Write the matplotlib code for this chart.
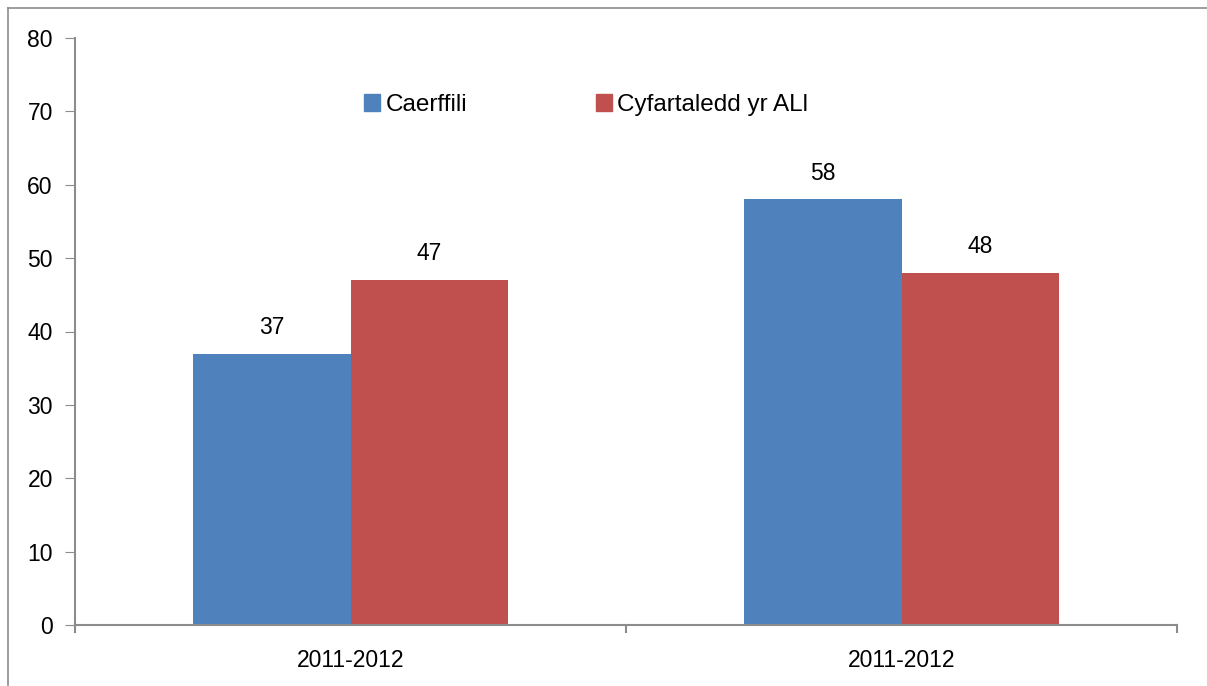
"""Grouped bar chart: Caerffili vs Cyfartaledd yr ALl."""

import matplotlib.pyplot as plt
import numpy as np
from matplotlib.lines import Line2D
from matplotlib.patches import Patch

categories = ["2011-2012", "2011-2012"]
series_names = ["Caerffili", "Cyfartaledd yr ALl"]
caerffili = [37, 58]
cyfartaledd = [47, 48]
y_ticks = [0, 10, 20, 30, 40, 50, 60, 70, 80]

BLUE = "#4f81bd"
RED = "#c0504d"
AXIS_GRAY = "#8c8c8c"
FS = 16.5

plt.rcParams["font.family"] = ["Liberation Sans", "DejaVu Sans"]

fig = plt.figure(figsize=(12.07, 6.86), dpi=100)
ax = fig.add_axes([75 / 1207, 1 - 625 / 686, 1102 / 1207, 587 / 686])

x = np.arange(len(categories))
width = 0.285
bars1 = ax.bar(x - width / 2, caerffili, width, color=BLUE, label=series_names[0])
bars2 = ax.bar(x + width / 2, cyfartaledd, width, color=RED, label=series_names[1])

for bars in (bars1, bars2):
    for b in bars:
        ax.text(
            b.get_x() + b.get_width() / 2,
            b.get_height() + 2.0,
            f"{b.get_height():.0f}",
            ha="center",
            va="bottom",
            fontsize=FS,
        )

ax.set_xlim(-0.5, len(categories) - 0.5)
ax.set_ylim(0, 80)
ax.set_yticks(y_ticks)
ax.tick_params(axis="y", labelsize=FS, length=7, color=AXIS_GRAY, pad=9, direction="out")
ax.set_xticks(x)
ax.set_xticklabels(categories, fontsize=FS)
ax.tick_params(axis="x", length=0, pad=17)
# category boundary ticks
for xb in np.arange(-0.5, len(categories), 1.0):
    ax.add_line(
        Line2D([xb, xb], [0, -1.0], color=AXIS_GRAY, lw=1.5, clip_on=False)
    )

for side in ("top", "right"):
    ax.spines[side].set_visible(False)
for side in ("left", "bottom"):
    ax.spines[side].set_color(AXIS_GRAY)
    ax.spines[side].set_linewidth(1.5)

handles = [Patch(color=BLUE), Patch(color=RED)]
ax.legend(
    handles,
    series_names,
    loc="center",
    bbox_to_anchor=((586 - 75) / 1102, (625 - 105) / 587),
    ncol=2,
    frameon=False,
    fontsize=17.5,
    handlelength=0.66,
    handleheight=0.66,
    handletextpad=0.2,
    columnspacing=5.3,
)

# outer frame (left and top edges visible in the reference)
fig.add_artist(Line2D([8 / 1207, 8 / 1207], [0, 1 - 8 / 686], color=AXIS_GRAY, lw=1.2))
fig.add_artist(Line2D([8 / 1207, 1], [1 - 8 / 686, 1 - 8 / 686], color=AXIS_GRAY, lw=1.2))

fig.savefig("out.png", dpi=100)
